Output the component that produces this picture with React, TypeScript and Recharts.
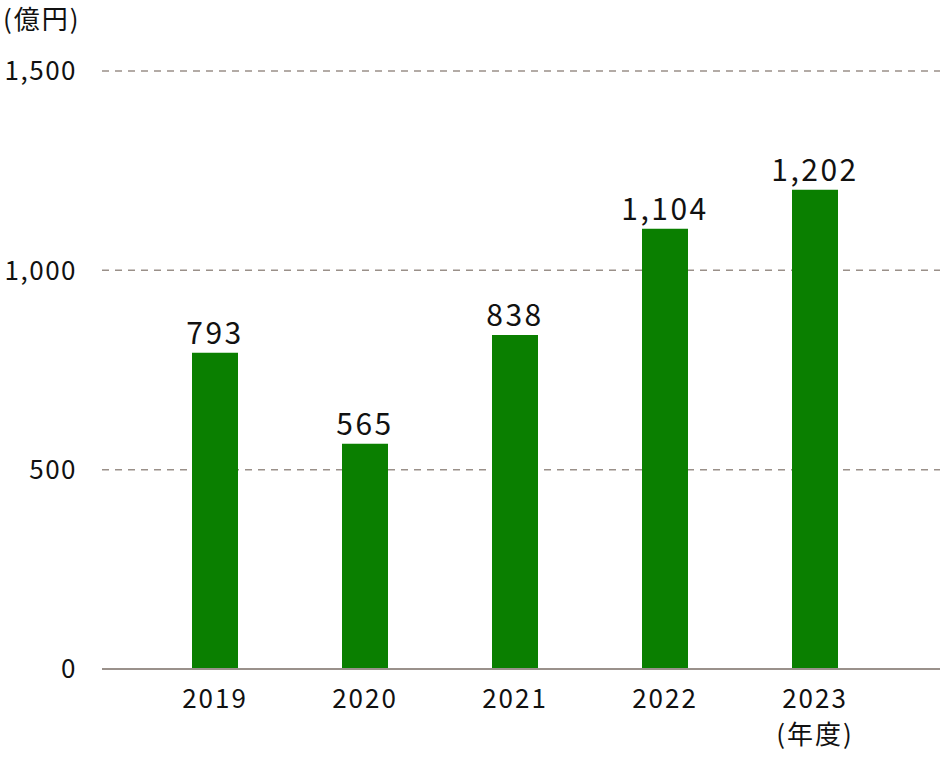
import React from "react";
import { BarChart, Bar, XAxis, YAxis, CartesianGrid, LabelList } from "recharts";

const years = ["2019", "2020", "2021", "2022", "2023"];
const values = [793, 565, 838, 1104, 1202];
const yTicks = [0, 500, 1000, 1500];
const unitLabel = "(億円)";
const yearUnit = "(年度)";

const data = years.map((y, i) => ({ year: y, value: values[i] }));

const FONT = "'Noto Sans CJK JP', 'Noto Sans', sans-serif";

const XTick = (props: any) => {
  const { x, y, payload, index } = props;
  return (
    <g>
      <text x={x} y={y + 27} textAnchor="middle" fill="#111" fontSize={26} fontFamily={FONT} letterSpacing={2}>
        {payload.value}
      </text>
      {index === years.length - 1 && (
        <text x={x} y={y + 63} textAnchor="middle" fill="#111" fontSize={26} fontFamily={FONT} letterSpacing={2}>
          {yearUnit}
        </text>
      )}
    </g>
  );
};

const fmt = (v: number) => v.toLocaleString("en-US");

export default function App() {
  return (
    <div style={{ position: "absolute", left: 0, top: 0, width: 940, height: 764, background: "#fff" }}>
      <div
        style={{
          position: "absolute",
          left: 3,
          top: 2,
          fontFamily: FONT,
          fontSize: 26,
          letterSpacing: 2,
          color: "#111",
          lineHeight: "32px",
          whiteSpace: "nowrap",
        }}
      >
        {unitLabel}
      </div>
      <BarChart width={940} height={764} data={data} margin={{ top: 71, right: 0, bottom: 0, left: 0 }}>
        <CartesianGrid vertical={false} stroke="#9a9089" strokeDasharray="7 6" strokeWidth={1.5} />
        <XAxis
          dataKey="year"
          height={95}
          axisLine={{ stroke: "#9a918b", strokeWidth: 2 }}
          tickLine={false}
          tickSize={0}
          tickMargin={12}
          padding={{ left: 38, right: 50 }}
          tick={<XTick />}
          interval={0}
        />
        <YAxis
          width={102}
          domain={[0, 1500]}
          ticks={yTicks}
          axisLine={false}
          tickLine={false}
          tickSize={0}
          tickMargin={25}
          tickFormatter={fmt}
          tick={{ fill: "#111", fontSize: 26, fontFamily: FONT, letterSpacing: 1.5 }}
        />
        <Bar dataKey="value" fill="#0a7f00" barSize={46} isAnimationActive={false}>
          <LabelList
            dataKey="value"
            position="top"
            offset={9}
            formatter={(v: any) => fmt(Number(v))}
            style={{ fill: "#111", fontSize: 30, fontFamily: FONT, letterSpacing: 2.5 }}
          />
        </Bar>
      </BarChart>
    </div>
  );
}
